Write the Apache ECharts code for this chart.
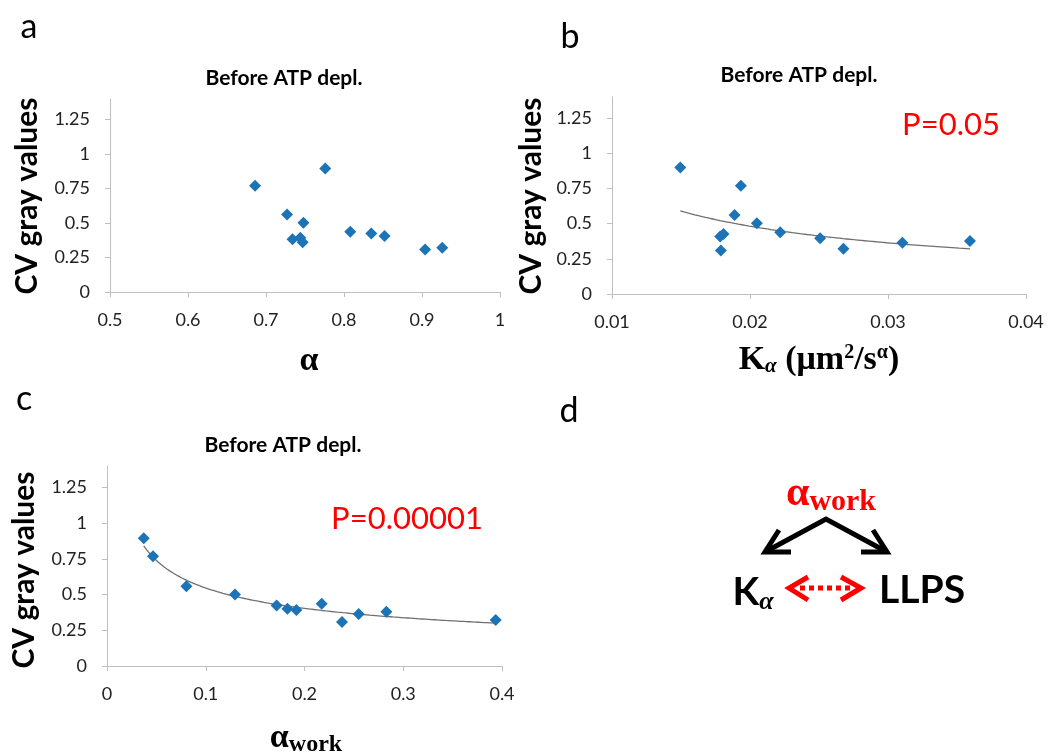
<!DOCTYPE html>
<html><head><meta charset="utf-8">
<script src="https://cdn.jsdelivr.net/npm/echarts@6/dist/echarts.min.js"></script>
<style>html,body{margin:0;padding:0;background:#fff}#c{width:1050px;height:754px}</style>
</head><body><div id="c"></div>
<script>
// ---- data ----
const alphaA = [0.686, 0.776, 0.727, 0.748, 0.734, 0.744, 0.747, 0.808, 0.835, 0.852, 0.904, 0.926];
const cvA    = [0.770, 0.896, 0.563, 0.502, 0.382, 0.394, 0.360, 0.437, 0.425, 0.406, 0.309, 0.321];

const kB     = [0.01495, 0.01934, 0.01888, 0.0205, 0.01784, 0.01808, 0.01789, 0.02219, 0.02508, 0.02677, 0.03104, 0.03594];
const cvB    = [0.899, 0.769, 0.561, 0.502, 0.408, 0.427, 0.309, 0.439, 0.396, 0.321, 0.365, 0.377];

const awC    = [0.0372, 0.0466, 0.0804, 0.1296, 0.1718, 0.1827, 0.1918, 0.2174, 0.238, 0.2549, 0.2829, 0.3936];
const cvC    = [0.895, 0.769, 0.559, 0.501, 0.424, 0.401, 0.392, 0.436, 0.308, 0.364, 0.380, 0.322];

const yTicks  = [0, 0.25, 0.5, 0.75, 1, 1.25];
const xTicksA = [0.5, 0.6, 0.7, 0.8, 0.9, 1];
const xTicksB = [0.01, 0.02, 0.03, 0.04];
const xTicksC = [0, 0.1, 0.2, 0.3, 0.4];

const panelTitle = 'Before ATP depl.';
const yName = 'CV gray values';
const pLabelB = 'P=0.05';
const pLabelC = 'P=0.00001';
const panelLetters = ['a', 'b', 'c', 'd'];

// ---- power-law trendline (least squares in log-log space, like a spreadsheet power trendline) ----
function powerTrend(xs, ys, n) {
  const lx = xs.map(Math.log), ly = ys.map(Math.log);
  const mx = lx.reduce((s, v) => s + v, 0) / lx.length;
  const my = ly.reduce((s, v) => s + v, 0) / ly.length;
  let sxy = 0, sxx = 0;
  for (let i = 0; i < lx.length; i++) { sxy += (lx[i] - mx) * (ly[i] - my); sxx += (lx[i] - mx) * (lx[i] - mx); }
  const b = sxy / sxx, a = Math.exp(my - b * mx);
  const x0 = Math.min(...xs), x1 = Math.max(...xs);
  const pts = [];
  for (let i = 0; i <= n; i++) { const x = x0 + (x1 - x0) * i / n; pts.push([x, a * Math.pow(x, b)]); }
  return pts;
}
const zip = (xs, ys) => xs.map((x, i) => [x, ys[i]]);

const SANS = 'Lato';
const SERIF = '"Liberation Serif"';
const AXIS_COLOR = '#bfbfbf';
const LABEL_COLOR = '#222';
const MARK_COLOR = '#1c74b6';

function xAxisDef(idx, min, max, interval, ticks) {
  return {
    type: 'value', gridIndex: idx, min: min, max: max, interval: interval,
    splitLine: { show: false },
    axisLine: { show: true, onZero: false, lineStyle: { color: AXIS_COLOR, width: 1 } },
    axisTick: { show: true, length: 5, lineStyle: { color: AXIS_COLOR }, customValues: ticks },
    axisLabel: { color: LABEL_COLOR, fontFamily: SANS, fontSize: 18, margin: 19, customValues: ticks }
  };
}
function yAxisDef(idx) {
  return {
    type: 'value', gridIndex: idx, min: 0, max: 1.4, interval: 0.25,
    splitLine: { show: false },
    axisLine: { show: true, lineStyle: { color: AXIS_COLOR, width: 1 } },
    axisTick: { show: true, length: 5, lineStyle: { color: AXIS_COLOR }, customValues: yTicks },
    axisLabel: { color: LABEL_COLOR, fontFamily: SANS, fontSize: 18, margin: 20, customValues: yTicks }
  };
}
function scatterDef(idx, data) {
  return { type: 'scatter', xAxisIndex: idx, yAxisIndex: idx, data: data, symbol: 'diamond', symbolSize: 12,
    itemStyle: { color: MARK_COLOR, opacity: 1 }, z: 3, silent: true };
}
function trendDef(idx, data) {
  return { type: 'line', xAxisIndex: idx, yAxisIndex: idx, data: data, showSymbol: false, symbol: 'none',
    lineStyle: { color: '#6f6f6f', width: 1.3 }, z: 2, silent: true, animation: false };
}

function txt(x, y, text, font, color, extra) {
  return { type: 'text', x: x, y: y, style: Object.assign({ text: text, font: font, fill: color || '#000', align: 'center', verticalAlign: 'middle' }, extra || {}) };
}

const graphics = [
  // panel letters
  txt(29, 27, panelLetters[0], '34px ' + SANS),
  txt(570, 37, panelLetters[1], '34px ' + SANS),
  txt(24, 399, panelLetters[2], '34px ' + SANS),
  txt(569, 411, panelLetters[3], '34px ' + SANS),
  // titles
  txt(284, 78, panelTitle, 'bold 21px ' + SANS),
  txt(799, 75, panelTitle, 'bold 21px ' + SANS),
  txt(283, 445, panelTitle, 'bold 21px ' + SANS),
  // y axis names
  Object.assign(txt(27, 196, yName, 'bold 30px ' + SANS), { rotation: Math.PI / 2 }),
  Object.assign(txt(531, 196, yName, 'bold 30px ' + SANS), { rotation: Math.PI / 2 }),
  Object.assign(txt(24, 570, yName, 'bold 30px ' + SANS), { rotation: Math.PI / 2 }),
  // P values
  txt(951, 125, pLabelB, '31px ' + SANS, '#ff0000'),
  txt(407, 519, pLabelC, '31px ' + SANS, '#ff0000'),
  // x axis names
  txt(309, 361, 'α', 'bold 34px ' + SERIF),
  {
    type: 'text', x: 819, y: 360,
    style: {
      text: '{b|K}{sub|α}{b| (μm}{sup|2}{b|/s}{sup|α}{b|)}', align: 'center', verticalAlign: 'middle', fill: '#000',
      rich: {
        b: { fontFamily: SERIF, fontWeight: 'bold', fontSize: 34 },
        sub: { fontFamily: SERIF, fontWeight: 'bold', fontStyle: 'italic', fontSize: 21, padding: [14, 0, 0, 0] },
        sup: { fontFamily: SERIF, fontWeight: 'bold', fontSize: 20, padding: [0, 0, 14, 0] }
      }
    }
  },
  {
    type: 'text', x: 306, y: 738,
    style: {
      text: '{b|α}{sub|work}', align: 'center', verticalAlign: 'middle', fill: '#000',
      rich: {
        b: { fontFamily: SERIF, fontWeight: 'bold', fontSize: 34 },
        sub: { fontFamily: SERIF, fontWeight: 'bold', fontSize: 24, padding: [14, 0, 0, 0] }
      }
    }
  },
  // panel d diagram
  {
    type: 'text', x: 831, y: 494,
    style: {
      text: '{a|α}{w|work}', align: 'center', verticalAlign: 'middle', fill: '#ff0000',
      rich: {
        a: { fontFamily: SERIF, fontWeight: 'bold', fontSize: 42, fill: '#ff0000' },
        w: { fontFamily: SERIF, fontWeight: 'bold', fontSize: 30, fill: '#ff0000', padding: [16, 0, 0, 0] }
      }
    }
  },
  {
    type: 'text', x: 753, y: 592,
    style: {
      text: '{k|K}{s|α}', align: 'center', verticalAlign: 'middle', fill: '#000',
      rich: {
        k: { fontFamily: SANS, fontWeight: 'bold', fontSize: 39 },
        s: { fontFamily: SERIF, fontWeight: 'bold', fontStyle: 'italic', fontSize: 26, padding: [20, 0, 0, 0] }
      }
    }
  },
  txt(922, 590, 'LLPS', 'bold 39px ' + SANS),
  { type: 'polyline', shape: { points: [[887, 552], [826, 519], [765, 552]] }, style: { stroke: '#000', lineWidth: 5, fill: null, lineJoin: 'miter', lineCap: 'butt' } },
  { type: 'polyline', shape: { points: [[779, 530], [765, 552], [791, 552]] }, style: { stroke: '#000', lineWidth: 5, fill: null, lineJoin: 'miter' } },
  { type: 'polyline', shape: { points: [[873, 530], [887, 552], [861, 552]] }, style: { stroke: '#000', lineWidth: 5, fill: null, lineJoin: 'miter' } },
  { type: 'line', shape: { x1: 800, y1: 588, x2: 850, y2: 588 }, style: { stroke: '#ff0000', lineWidth: 5, lineDash: [5, 4] } },
  { type: 'polyline', shape: { points: [[808, 577], [789, 588], [808, 600]] }, style: { stroke: '#ff0000', lineWidth: 5, fill: null, lineJoin: 'miter' } },
  { type: 'polyline', shape: { points: [[841, 577], [861, 588], [841, 600]] }, style: { stroke: '#ff0000', lineWidth: 5, fill: null, lineJoin: 'miter' } }
];

const option = {
  animation: false,
  backgroundColor: '#fff',
  grid: [
    { left: 110, top: 99, width: 390, height: 193 },
    { left: 612, top: 97, width: 414, height: 197 },
    { left: 107, top: 466, width: 395, height: 200 }
  ],
  xAxis: [
    xAxisDef(0, 0.5, 1, 0.1, xTicksA),
    xAxisDef(1, 0.01, 0.04, 0.01, xTicksB),
    xAxisDef(2, 0, 0.4, 0.1, xTicksC)
  ],
  yAxis: [yAxisDef(0), yAxisDef(1), yAxisDef(2)],
  series: [
    scatterDef(0, zip(alphaA, cvA)),
    trendDef(1, powerTrend(kB, cvB, 80)),
    scatterDef(1, zip(kB, cvB)),
    trendDef(2, powerTrend(awC, cvC, 120)),
    scatterDef(2, zip(awC, cvC))
  ],
  graphic: graphics
};
const chart = echarts.init(document.getElementById('c'), null, { renderer: 'canvas' });
chart.setOption(option);
</script>
</body></html>
